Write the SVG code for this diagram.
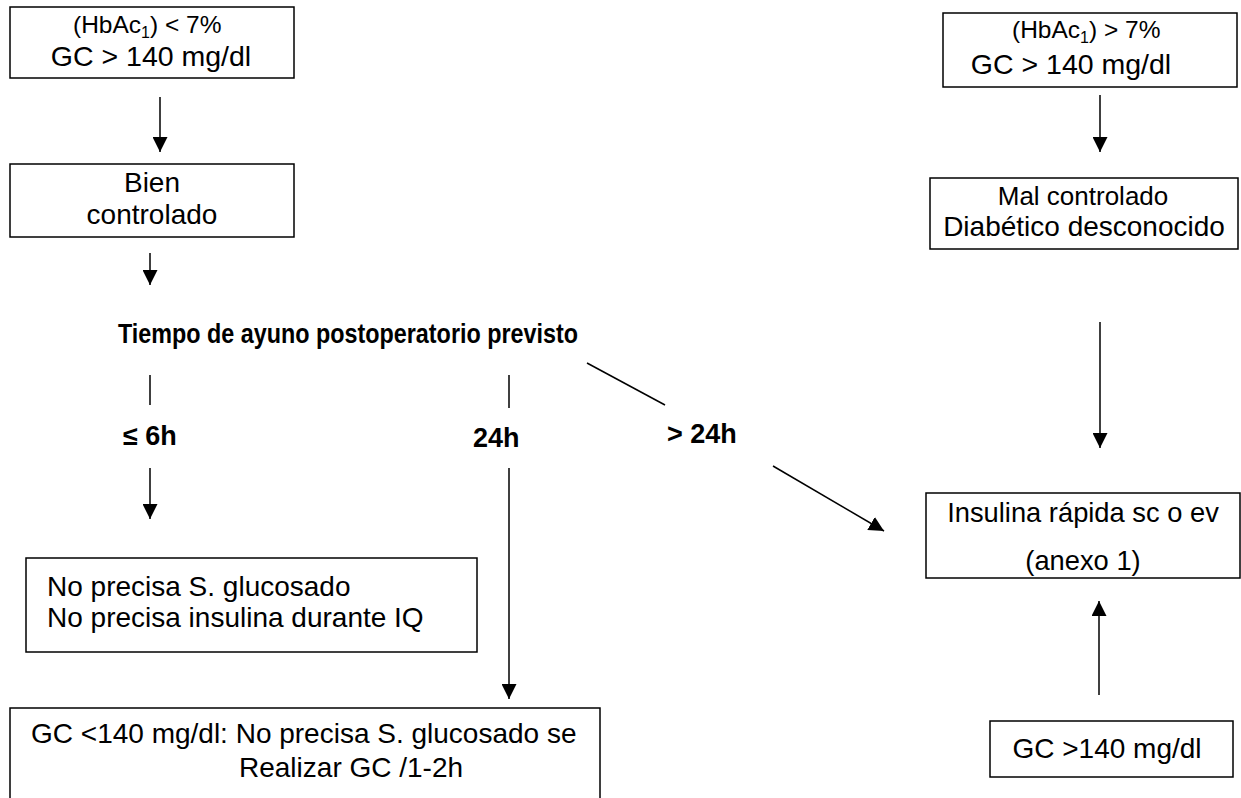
<svg xmlns="http://www.w3.org/2000/svg" width="1241" height="798" viewBox="0 0 1241 798">
<style>
.box{fill:#fff;stroke:#000;stroke-width:1.5}
.t{font-family:"Liberation Sans",Arial,sans-serif;font-size:28px;fill:#000}
.s{font-size:24.5px}
.b{font-family:"Liberation Sans",Arial,sans-serif;font-size:27px;font-weight:bold;fill:#000}
.sub{font-size:16px}
.ln{stroke:#000;stroke-width:1.5;fill:none}
.ar{stroke:#000;stroke-width:1.5;fill:none;marker-end:url(#ah)}
</style>
<defs>
<marker id="ah" markerUnits="userSpaceOnUse" markerWidth="16" markerHeight="15" refX="15" refY="7.5" orient="auto" viewBox="0 0 16 15">
<path d="M0,0 L15,7.5 L0,15 z" fill="#000"/>
</marker>
</defs>
<rect width="1241" height="798" fill="#fff"/>
<g id="connectors">
<line class="ar" x1="160" y1="97" x2="160" y2="152"/>
<line class="ar" x1="150" y1="253" x2="150" y2="285"/>
<line class="ln" x1="150" y1="375" x2="150" y2="405"/>
<line class="ar" x1="150" y1="468" x2="150" y2="519"/>
<line class="ln" x1="509" y1="375" x2="509" y2="408"/>
<line class="ar" x1="509" y1="468" x2="509" y2="699"/>
<line class="ln" x1="587" y1="363" x2="665" y2="405"/>
<line class="ar" x1="773" y1="466" x2="884" y2="531"/>
<line class="ar" x1="1100" y1="95" x2="1100" y2="152"/>
<line class="ar" x1="1100" y1="322" x2="1100" y2="448"/>
<line class="ar" x1="1099" y1="695" x2="1099" y2="601"/>
</g>
<g id="n1">
<rect class="box" x="10" y="7" width="284" height="71"/>
<text class="t s" x="73" y="33">(HbAc<tspan class="sub" dy="5">1</tspan><tspan dy="-5">) &lt; 7%</tspan></text>
<text class="t" x="151" y="66" text-anchor="middle" style="font-size:28.5px">GC &gt; 140 mg/dl</text>
</g>
<g id="n2">
<rect class="box" x="10" y="164" width="284" height="73"/>
<text class="t" x="152" y="192" text-anchor="middle">Bien</text>
<text class="t" x="152" y="224" text-anchor="middle">controlado</text>
</g>
<g id="n3">
<text class="b" x="118" y="343" textLength="460" lengthAdjust="spacingAndGlyphs">Tiempo de ayuno postoperatorio previsto</text>
</g>
<g id="l1"><text class="b" x="123" y="445">≤ 6h</text></g>
<g id="l2"><text class="b" x="473" y="447">24h</text></g>
<g id="l3"><text class="b" x="667" y="443">&gt; 24h</text></g>
<g id="n4">
<rect class="box" x="26" y="558" width="451" height="94"/>
<text class="t" x="47" y="596">No precisa S. glucosado</text>
<text class="t" x="47" y="627">No precisa insulina durante IQ</text>
</g>
<g id="n5">
<rect class="box" x="10" y="708" width="590" height="100"/>
<text class="t" x="31" y="743">GC &lt;140 mg/dl: No precisa S. glucosado se</text>
<text class="t" x="239" y="777">Realizar GC /1-2h</text>
</g>
<g id="n6">
<rect class="box" x="943" y="13" width="294" height="74"/>
<text class="t s" x="1012" y="38">(HbAc<tspan class="sub" dy="5">1</tspan><tspan dy="-5">) &gt; 7%</tspan></text>
<text class="t" x="1071" y="74" text-anchor="middle" style="font-size:28.5px">GC &gt; 140 mg/dl</text>
</g>
<g id="n7">
<rect class="box" x="930" y="178" width="308" height="71"/>
<text class="t" x="1083" y="205" text-anchor="middle" style="font-size:26px">Mal controlado</text>
<text class="t" x="1084" y="236" text-anchor="middle">Diabético desconocido</text>
</g>
<g id="n8">
<rect class="box" x="926" y="493" width="314" height="85"/>
<text class="t" x="1083" y="522" text-anchor="middle" style="font-size:27.3px">Insulina rápida sc o ev</text>
<text class="t" x="1083" y="570" text-anchor="middle" style="font-size:27.3px">(anexo 1)</text>
</g>
<g id="n9">
<rect class="box" x="990" y="721" width="243" height="56"/>
<text class="t" x="1107" y="758" text-anchor="middle">GC &gt;140 mg/dl</text>
</g>
</svg>
